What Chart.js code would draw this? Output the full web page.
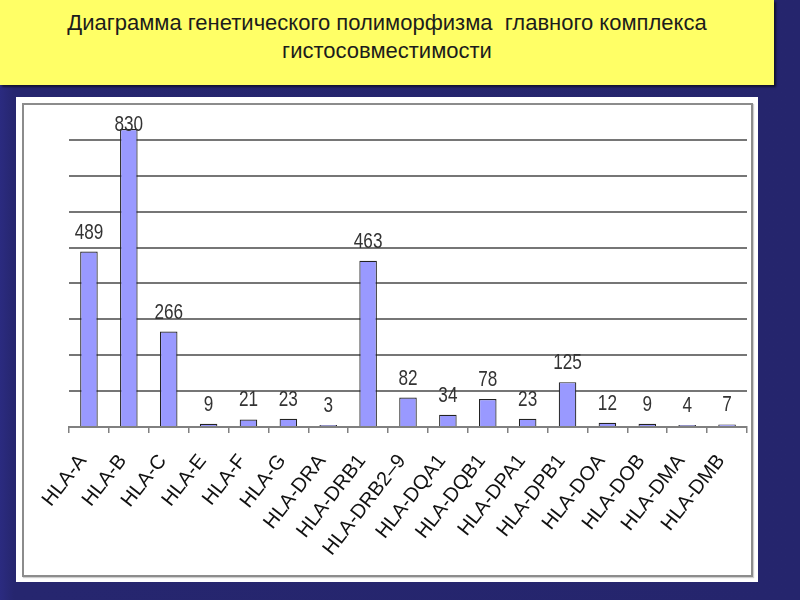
<!DOCTYPE html>
<html>
<head>
<meta charset="utf-8">
<script src="https://cdn.jsdelivr.net/npm/chart.js@4.4.0/dist/chart.umd.min.js"></script>
<style>
  html, body { margin: 0; padding: 0; }
  body { width: 800px; height: 600px; background: linear-gradient(90deg, #2b2b80 0px, #26266f 14px, #25256d 100%); position: relative; overflow: hidden; font-family: "Liberation Sans", Arial, sans-serif; }
  #titlebox { position: absolute; left: 0; top: 0; width: 774px; height: 85px; background: #ffff66; box-shadow: 2px 2px 2px rgba(0,0,0,0.55); }
  #title { position: absolute; left: 0; top: 9px; width: 774px; text-align: center; font-size: 22px; line-height: 28px; color: #1c1c1c; }
  #panel { position: absolute; left: 16px; top: 97px; width: 742px; height: 485px; background: #ffffff; }
  #inner { position: absolute; left: 22px; top: 103px; width: 727px; height: 470px; border: 2px solid #8c8c8c; box-shadow: 1px 1px 1px #cfcfcf; }
  #wrap { position: absolute; left: 22px; top: 103px; width: 731px; height: 474px; }
</style>
</head>
<body>
<div id="titlebox"><div id="title">Диаграмма генетического полиморфизма&nbsp; главного комплекса<br>гистосовместимости</div></div>
<div id="panel"></div>
<div id="inner"></div>
<div id="wrap"><canvas id="c" width="731" height="474"></canvas></div>
<script>
const categories = ["HLA-A","HLA-B","HLA-C","HLA-E","HLA-F","HLA-G","HLA-DRA","HLA-DRB1","HLA-DRB2–9","HLA-DQA1","HLA-DQB1","HLA-DPA1","HLA-DPB1","HLA-DOA","HLA-DOB","HLA-DMA","HLA-DMB"];
const values = [489, 830, 266, 9, 21, 23, 3, 463, 82, 34, 78, 23, 125, 12, 9, 4, 7];
const yMax = 900;
const yStep = 100;

const valueLabels = {
  id: 'valueLabels',
  afterDatasetsDraw(chart) {
    const ctx = chart.ctx;
    const meta = chart.getDatasetMeta(0);
    const sx = 0.78;
    ctx.save();
    ctx.font = '22px "Liberation Sans", Arial, sans-serif';
    ctx.fillStyle = '#333333';
    ctx.textAlign = 'center';
    ctx.textBaseline = 'alphabetic';
    meta.data.forEach((bar, i) => {
      const y = Math.max(bar.y - 13, 28);
      ctx.save();
      ctx.translate(bar.x, y);
      ctx.scale(sx, 1);
      ctx.fillText(String(values[i]), 0, 0);
      ctx.restore();
    });
    ctx.restore();
  }
};

new Chart(document.getElementById('c'), {
  type: 'bar',
  data: {
    labels: categories,
    datasets: [{
      data: values,
      backgroundColor: '#9999ff',
      borderColor: '#222222',
      borderWidth: 1.2,
      minBarLength: 2,
      barPercentage: 0.44,
      categoryPercentage: 1.0
    }]
  },
  options: {
    responsive: false,
    animation: false,
    devicePixelRatio: 1,
    layout: { padding: { left: 47, right: 6, top: 1, bottom: 0 } },
    plugins: { legend: { display: false }, title: { display: false }, tooltip: { enabled: false } },
    scales: {
      x: {
        afterFit: s => { s.height = 150; s.paddingLeft = 0; s.paddingRight = 0; },
        grid: { display: true, drawOnChartArea: false, drawTicks: true, tickLength: 6, color: '#808080', lineWidth: 1.5, offset: true },
        border: { display: true, color: '#808080', width: 2 },
        ticks: { color: '#111111', font: { family: '"Liberation Sans", Arial, sans-serif', size: 20 }, minRotation: 52, maxRotation: 52, padding: 17, labelOffset: -6, autoSkip: false }
      },
      y: {
        min: 0, max: yMax,
        afterFit: s => { s.width = 0; s.paddingTop = 0; s.paddingBottom = 0; },
        ticks: { display: false, stepSize: yStep },
        border: { display: false },
        grid: { drawTicks: false, color: ctx => (ctx.tick && ctx.tick.value >= yMax) ? 'rgba(0,0,0,0)' : '#767676', lineWidth: 2 }
      }
    }
  },
  plugins: [valueLabels]
});
</script>
</body>
</html>
